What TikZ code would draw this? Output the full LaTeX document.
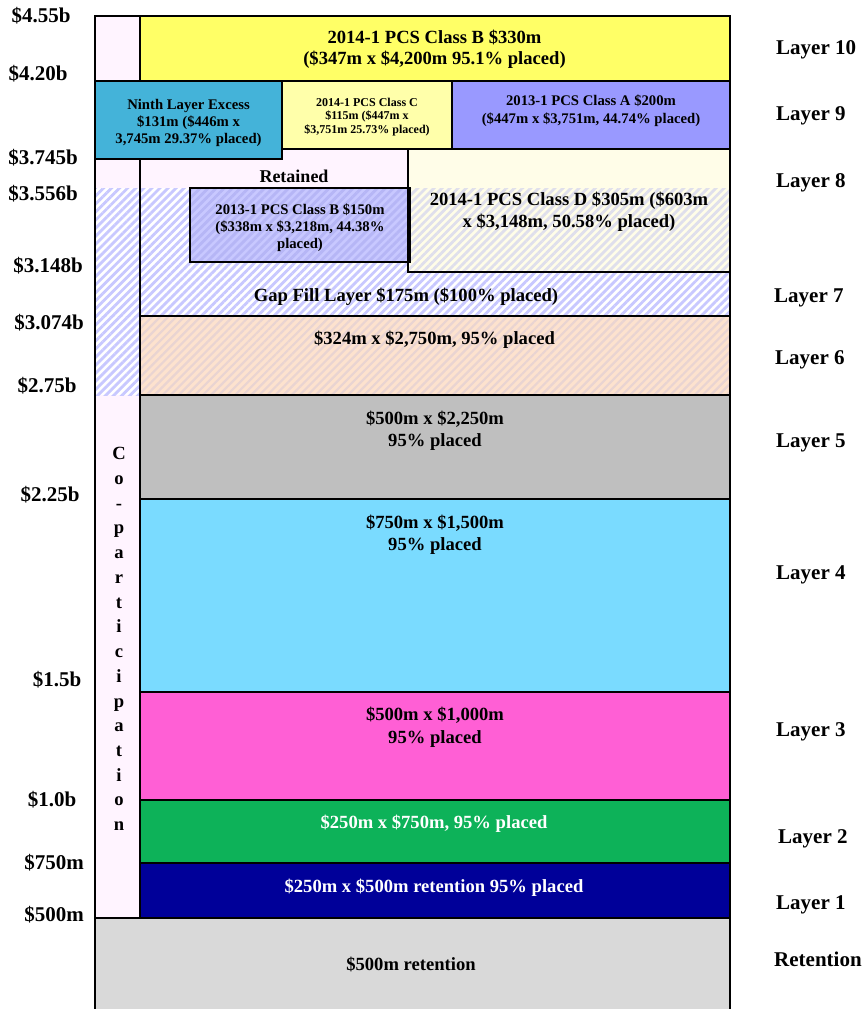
\documentclass[tikz,border=0pt]{standalone}
\usepackage{fontspec}
\setmainfont{Liberation Serif}
\usetikzlibrary{patterns.meta}
\definecolor{copartcol}{HTML}{FFF4FF}
\definecolor{yelcol}{HTML}{FFFF66}
\definecolor{ninthcol}{HTML}{44B3D9}
\definecolor{cccol}{HTML}{FFFFAA}
\definecolor{cacol}{HTML}{9999FF}
\definecolor{cdcol}{HTML}{FFFDE8}
\definecolor{cdstripe}{HTML}{DFDFEC}
\definecolor{cbcol}{HTML}{C8C8FF}
\definecolor{cbstripe}{HTML}{B6B6F6}
\definecolor{gapstripe}{HTML}{C8C8FF}
\definecolor{lsixcol}{HTML}{FDE2CE}
\definecolor{lsixstripe}{HTML}{E9D4D2}
\definecolor{lfivecol}{HTML}{BFBFBF}
\definecolor{lfourcol}{HTML}{7ADBFF}
\definecolor{lthreecol}{HTML}{FF5FD5}
\definecolor{ltwocol}{HTML}{0DB259}
\definecolor{lonecol}{HTML}{000099}
\definecolor{retcol}{HTML}{D9D9D9}
\tikzset{
  frame/.style={draw=black, line width=2.5pt, inner sep=0pt, outer sep=0pt, anchor=north west, rectangle},
  hatch/.style={pattern={Lines[angle=45,distance=5.7pt,line width=2.8pt]}, pattern color=#1},
  thinhatch/.style={pattern={Lines[angle=45,distance=5.7pt,line width=2.2pt]}, pattern color=#1},
  lbl/.style={anchor=base, inner sep=0pt, font=\bfseries\fontsize{21}{24}\selectfont},
  rlbl/.style={anchor=base west, inner sep=0pt, font=\bfseries\fontsize{21}{24}\selectfont},
  big/.style={anchor=base, inner sep=0pt, font=\bfseries\fontsize{18.6}{22}\selectfont},
  med/.style={anchor=base, inner sep=0pt, font=\bfseries\fontsize{14.7}{17}\selectfont},
  sml/.style={anchor=base, inner sep=0pt, font=\bfseries\fontsize{12}{14}\selectfont},
  white text/.style={text=white}
}
\begin{document}
\begin{tikzpicture}[x=1pt,y=-1pt]
\useasboundingbox (0,0) rectangle (864,1009);
% ---- fills ----
\fill[copartcol] (95,16) rectangle (140,918);
\fill[yelcol] (140,16) rectangle (730,81);
\fill[cccol] (282,81) rectangle (452,149);
\fill[cacol] (452,81) rectangle (730,149);
\fill[copartcol] (140,149) rectangle (408,188);
\fill[white] (95,188) rectangle (730,316);
\fill[white] (95,316) rectangle (140,395);
\fill[hatch=gapstripe] (95,188) rectangle (730,316);
\fill[hatch=gapstripe] (95,316) rectangle (140,395);
\fill[cdcol] (408,149) rectangle (730,272);
\fill[hatch=cdstripe] (408,188) rectangle (730,272);
\fill[cbcol] (190,188) rectangle (410,262);
\fill[hatch=cbstripe] (190,188) rectangle (410,262);
\fill[lsixcol] (140,316) rectangle (730,395);
\fill[thinhatch=lsixstripe] (140,316) rectangle (730,395);
\fill[lfivecol] (140,395) rectangle (730,499);
\fill[lfourcol] (140,499) rectangle (730,692);
\fill[lthreecol] (140,692) rectangle (730,800);
\fill[ltwocol] (140,800) rectangle (730,863);
\fill[lonecol] (140,863) rectangle (730,918);
\fill[retcol] (95,918) rectangle (730,1012);
% ---- outlines ----
\node[frame, minimum width=45pt, minimum height=902pt] (copart) at (95,16) {};
\node[frame, minimum width=590pt, minimum height=65pt] (l10) at (140,16) {};
\node[frame, minimum width=590pt, minimum height=167pt] (gap) at (140,149) {};
\node[frame, fill=ninthcol, minimum width=187pt, minimum height=78pt] (ninth) at (95,81) {};
\node[frame, minimum width=170pt, minimum height=68pt] (cc) at (282,81) {};
\node[frame, minimum width=278pt, minimum height=68pt] (ca) at (452,81) {};
\node[frame, minimum width=322pt, minimum height=123pt] (cd) at (408,149) {};
\node[frame, minimum width=220pt, minimum height=74pt] (cb) at (190,188) {};
\node[frame, minimum width=590pt, minimum height=79pt] (l6) at (140,316) {};
\node[frame, minimum width=590pt, minimum height=104pt] (l5) at (140,395) {};
\node[frame, minimum width=590pt, minimum height=193pt] (l4) at (140,499) {};
\node[frame, minimum width=590pt, minimum height=108pt] (l3) at (140,692) {};
\node[frame, minimum width=590pt, minimum height=63pt] (l2) at (140,800) {};
\node[frame, minimum width=590pt, minimum height=55pt] (l1) at (140,863) {};
\node[frame, minimum width=635pt, minimum height=100pt] (ret) at (95,918) {};
% ---- box texts ----
\node[big] (t10a) at (434.5,43) {2014-1 PCS Class B \$330m};
\node[big] (t10b) at (434.5,64) {(\$347m x \$4,200m 95.1\% placed)};
\node[med] (t9a) at (188.5,109) {Ninth Layer Excess};
\node[med] (t9b) at (188.5,126) {\$131m (\$446m x};
\node[med] (t9c) at (188.5,143) {3,745m 29.37\% placed)};
\node[sml] (tcca) at (367,106) {2014-1 PCS Class C};
\node[sml] (tccb) at (367,119.5) {\$115m (\$447m x};
\node[sml] (tccc) at (367,133) {\$3,751m 25.73\% placed)};
\node[med] (tcaa) at (591,105) {2013-1 PCS Class A \$200m};
\node[med] (tcab) at (591,123) {(\$447m x \$3,751m, 44.74\% placed)};
\node[anchor=base, inner sep=0pt, font=\bfseries\fontsize{18}{21}\selectfont] (tret8) at (294,182) {Retained};
\node[big] (tcda) at (569,205) {2014-1 PCS Class D \$305m (\$603m};
\node[big] (tcdb) at (569,227) {x \$3,148m, 50.58\% placed)};
\node[med] (tcba) at (300,214) {2013-1 PCS Class B \$150m};
\node[med] (tcbb) at (300,231) {(\$338m x \$3,218m, 44.38\%};
\node[med] (tcbc) at (300,248) {placed)};
\node[big] (tgap) at (406,301) {Gap Fill Layer \$175m (\$100\% placed)};
\node[big] (tl6) at (434.5,344) {\$324m x \$2,750m, 95\% placed};
\node[big] (tl5a) at (435,424) {\$500m x \$2,250m};
\node[big] (tl5b) at (435,446) {95\% placed};
\node[big] (tl4a) at (435,528) {\$750m x \$1,500m};
\node[big] (tl4b) at (435,550) {95\% placed};
\node[big] (tl3a) at (435,720) {\$500m x \$1,000m};
\node[big] (tl3b) at (435,743) {95\% placed};
\node[big, white text] (tl2) at (434,828) {\$250m x \$750m, 95\% placed};
\node[big, white text] (tl1) at (434,892) {\$250m x \$500m retention 95\% placed};
\node[big] (tret) at (411,970) {\$500m retention};
% ---- co-participation ----
\foreach \ch [count=\i] in {C,o,-,p,a,r,t,i,c,i,p,a,t,i,o,n}
  \node[big] (cp\i) at (119,435+\i*24.73) {\ch};
% ---- left labels ----
\node[lbl] (y455) at (41,23) {\$4.55b};
\node[lbl] (y420) at (38,80) {\$4.20b};
\node[lbl] (y3745) at (43,164) {\$3.745b};
\node[lbl] (y3556) at (43,200) {\$3.556b};
\node[lbl] (y3148) at (48,272) {\$3.148b};
\node[lbl] (y3074) at (49,329) {\$3.074b};
\node[lbl] (y275) at (47,392) {\$2.75b};
\node[lbl] (y225) at (50,501) {\$2.25b};
\node[lbl] (y15) at (57,686) {\$1.5b};
\node[lbl] (y10) at (52,806) {\$1.0b};
\node[lbl] (y750) at (54,869) {\$750m};
\node[lbl] (y500) at (54,921) {\$500m};
% ---- right labels ----
\node[rlbl] (r10) at (776,54) {Layer 10};
\node[rlbl] (r9) at (776,120) {Layer 9};
\node[rlbl] (r8) at (776,187) {Layer 8};
\node[rlbl] (r7) at (774,302) {Layer 7};
\node[rlbl] (r6) at (775,364) {Layer 6};
\node[rlbl] (r5) at (776,447) {Layer 5};
\node[rlbl] (r4) at (776,579) {Layer 4};
\node[rlbl] (r3) at (776,736) {Layer 3};
\node[rlbl] (r2) at (778,843) {Layer 2};
\node[rlbl] (r1) at (776,909) {Layer 1};
\node[rlbl] (rr) at (774,966) {Retention};
\end{tikzpicture}
\end{document}
